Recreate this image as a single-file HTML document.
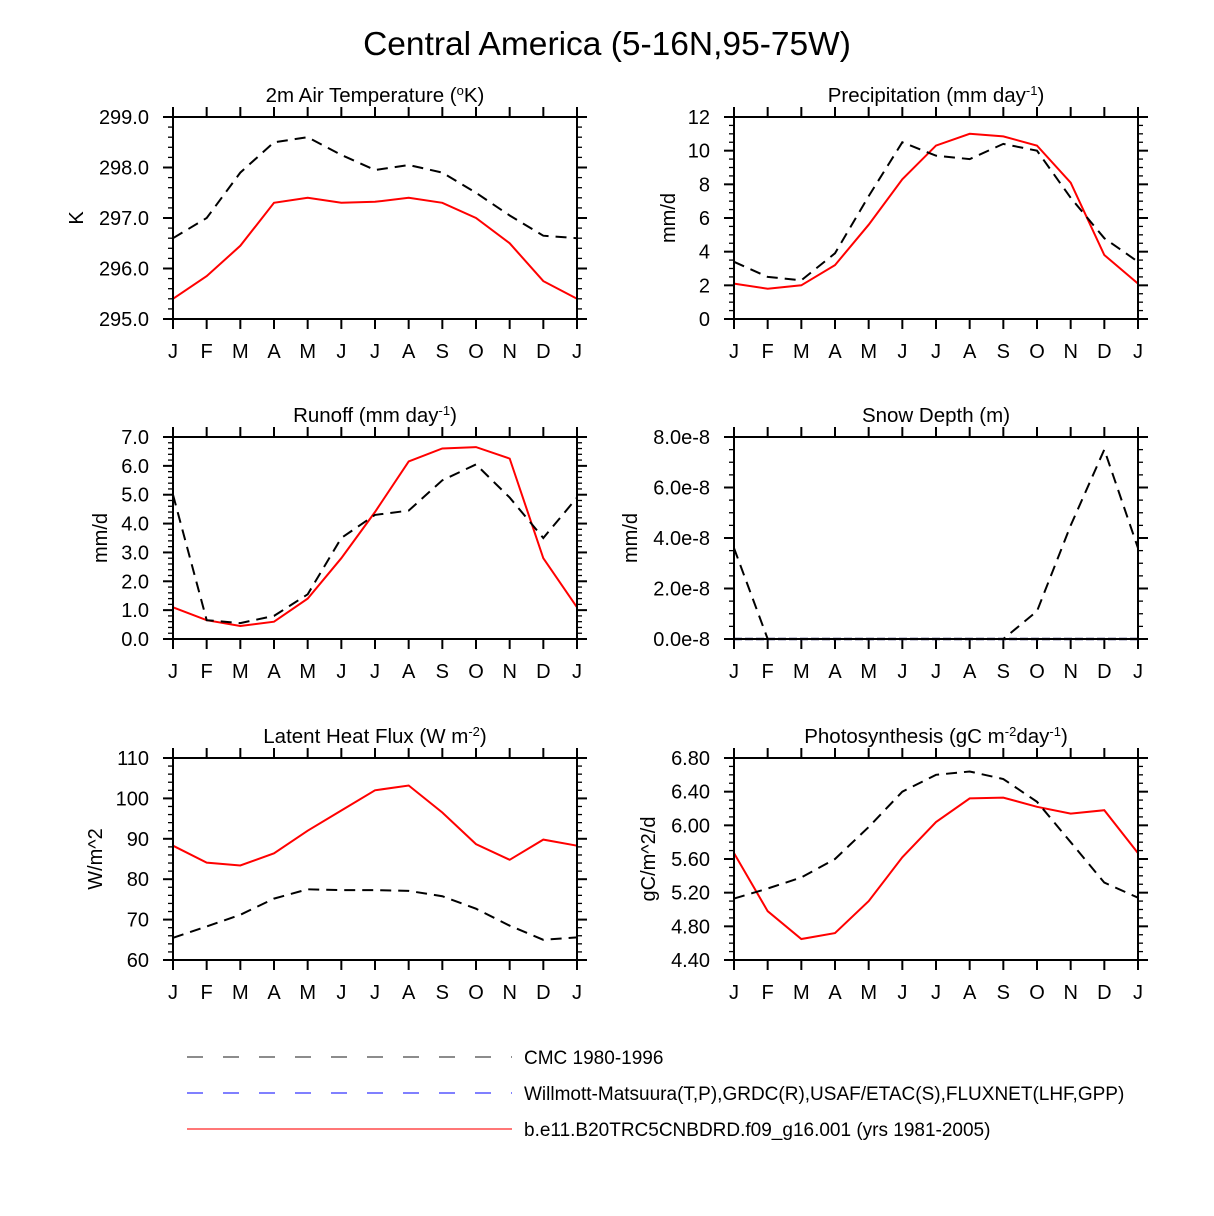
<!DOCTYPE html>
<html><head><meta charset="utf-8"><style>
body{margin:0;background:#fff;}
svg{display:block;font-family:"Liberation Sans",sans-serif;}
</style></head><body>
<svg id="s" width="1214" height="1216" viewBox="0 0 1214 1216" xmlns="http://www.w3.org/2000/svg">
<text x="607" y="55" font-size="33.5" text-anchor="middle">Central America (5-16N,95-75W)</text>
<g>
<line x1="187" y1="1057" x2="512" y2="1057" stroke="#666" stroke-width="1.5" stroke-dasharray="16,20"/>
<text x="524" y="1064" font-size="19">CMC 1980-1996</text>
<line x1="187" y1="1093" x2="512" y2="1093" stroke="#00f" stroke-width="1" stroke-dasharray="16,20"/>
<text x="524" y="1100" font-size="19">Willmott-Matsuura(T,P),GRDC(R),USAF/ETAC(S),FLUXNET(LHF,GPP)</text>
<line x1="187" y1="1129" x2="512" y2="1129" stroke="#f77" stroke-width="2"/>
<text x="524" y="1136" font-size="19">b.e11.B20TRC5CNBDRD.f09_g16.001 (yrs 1981-2005)</text>
</g>
</svg>
<script>
const months=["J","F","M","A","M","J","J","A","S","O","N","D","J"];
const tempCMC=[296.6,297.0,297.9,298.5,298.6,298.25,297.95,298.05,297.9,297.5,297.05,296.65,296.6];
const tempModel=[295.4,295.85,296.45,297.3,297.4,297.3,297.32,297.4,297.3,297.0,296.5,295.75,295.4];
const precCMC=[3.4,2.5,2.3,3.9,7.3,10.5,9.7,9.5,10.4,10.0,7.2,4.8,3.4];
const precModel=[2.1,1.8,2.0,3.2,5.6,8.3,10.3,11.0,10.85,10.3,8.1,3.8,2.1];
const runCMC=[5.0,0.65,0.55,0.8,1.55,3.5,4.3,4.45,5.5,6.05,4.9,3.5,4.9];
const runModel=[1.1,0.65,0.45,0.6,1.4,2.8,4.4,6.15,6.6,6.65,6.25,2.8,1.1];
const snowCMC=[3.6,0,0,0,0,0,0,0,0,1.1,4.5,7.5,3.6];
const snowModel=[0,0,0,0,0,0,0,0,0,0,0,0,0];
const lhfCMC=[65.5,68.3,71.2,75.2,77.5,77.3,77.3,77.1,75.8,72.7,68.5,65.0,65.6];
const lhfModel=[88.3,84.1,83.4,86.4,92,97,102,103.2,96.5,88.7,84.8,89.8,88.3];
const gppCMC=[5.13,5.25,5.38,5.6,5.98,6.4,6.6,6.64,6.55,6.28,5.8,5.32,5.14];
const gppModel=[5.67,4.98,4.65,4.72,5.1,5.62,6.04,6.32,6.33,6.22,6.14,6.18,5.67];
const tempTicks=["295.0","296.0","297.0","298.0","299.0"];
const precTicks=["0","2","4","6","8","10","12"];
const runTicks=["0.0","1.0","2.0","3.0","4.0","5.0","6.0","7.0"];
const snowTicks=["0.0e-8","2.0e-8","4.0e-8","6.0e-8","8.0e-8"];
const lhfTicks=["60","70","80","90","100","110"];
const gppTicks=["4.40","4.80","5.20","5.60","6.00","6.40","6.80"];

const NS="http://www.w3.org/2000/svg";
const svg=document.getElementById('s');
function mk(tag,attrs,parent){const e=document.createElementNS(NS,tag);for(const k in attrs)e.setAttribute(k,attrs[k]);(parent||svg).appendChild(e);return e;}

const panels=[
 {name:'temperature',x:173,y:117,lx:76,title:'2m Air Temperature (<tspan font-size="13" dy="-7">o</tspan><tspan dy="7">K)</tspan>',ylab:'K',ymin:295,ymax:299,minor:0.2,ticks:tempTicks,cmc:tempCMC,model:tempModel},
 {name:'precipitation',x:734,y:117,lx:668,title:'Precipitation (mm day<tspan font-size="13" dy="-7">-1</tspan><tspan dy="7">)</tspan>',ylab:'mm/d',ymin:0,ymax:12,minor:0.5,ticks:precTicks,cmc:precCMC,model:precModel},
 {name:'runoff',x:173,y:437,lx:100,title:'Runoff (mm day<tspan font-size="13" dy="-7">-1</tspan><tspan dy="7">)</tspan>',ylab:'mm/d',ymin:0,ymax:7,minor:0.2,ticks:runTicks,cmc:runCMC,model:runModel},
 {name:'snow-depth',x:734,y:437,lx:630,title:'Snow Depth (m)',ylab:'mm/d',ymin:0,ymax:8,minor:0.5,ticks:snowTicks,cmc:snowCMC,model:snowModel,obs:snowModel},
 {name:'latent-heat',x:173,y:758,lx:95,title:'Latent Heat Flux (W m<tspan font-size="13" dy="-7">-2</tspan><tspan dy="7">)</tspan>',ylab:'W/m^2',ymin:60,ymax:110,minor:2,ticks:lhfTicks,cmc:lhfCMC,model:lhfModel},
 {name:'photosynthesis',x:734,y:758,lx:648,title:'Photosynthesis (gC m<tspan font-size="13" dy="-7">-2</tspan><tspan dy="7">day</tspan><tspan font-size="13" dy="-7">-1</tspan><tspan dy="7">)</tspan>',ylab:'gC/m^2/d',ymin:4.4,ymax:6.8,minor:0.1,ticks:gppTicks,cmc:gppCMC,model:gppModel}
];
const W=404,H=202;
panels.forEach(p=>{
 const g=mk('g',{});
 
 
 const xs=i=>p.x+i*W/12;
 const ys=v=>p.y+H-(v-p.ymin)/(p.ymax-p.ymin)*H;
 const t=mk('text',{x:p.x+W/2,y:p.y-15,'font-size':20.5,'text-anchor':'middle'},g);
 t.innerHTML=p.title;
 
 
 const yl=mk('text',{x:0,y:0,'font-size':20,'text-anchor':'middle',transform:`translate(${p.lx+7},${p.y+H/2}) rotate(-90)`},g);
 yl.textContent=p.ylab;
 
 
 const nmin=Math.round((p.ymax-p.ymin)/p.minor);
 for(let k=0;k<=nmin;k++){const y=p.y+H-k*H/nmin;
  mk('line',{x1:p.x-5,x2:p.x,y1:y,y2:y,stroke:'#000','stroke-width':1.3},g);
  mk('line',{x1:p.x+W,x2:p.x+W+5,y1:y,y2:y,stroke:'#000','stroke-width':1.3},g);}
 p.ticks.forEach((lab,k)=>{const y=p.y+H-k*H/(p.ticks.length-1);
  mk('line',{x1:p.x-10,x2:p.x,y1:y,y2:y,stroke:'#000','stroke-width':2},g);
  mk('line',{x1:p.x+W,x2:p.x+W+10,y1:y,y2:y,stroke:'#000','stroke-width':2},g);
  const tl=mk('text',{x:p.x-24,y:y+7,'font-size':20,'text-anchor':'end'},g);
  tl.textContent=lab;
  
  });
 months.forEach((m,i)=>{const x=xs(i);
  mk('line',{x1:x,x2:x,y1:p.y+H,y2:p.y+H+10,stroke:'#000','stroke-width':2},g);
  mk('line',{x1:x,x2:x,y1:p.y-10,y2:p.y,stroke:'#000','stroke-width':2},g);
  const ml=mk('text',{x:x,y:p.y+H+39,'font-size':20,'text-anchor':'middle'},g);
  ml.textContent=m;
  
  });
 const pts=a=>a.map((v,i)=>xs(i).toFixed(1)+','+ys(v).toFixed(1)).join(' ');
 const red=mk('polyline',{points:pts(p.model),fill:'none',stroke:'#f00','stroke-width':2},g);
 
 
 if(p.obs){const b=mk('polyline',{points:pts(p.obs),fill:'none',stroke:'#226','stroke-width':2.5,'stroke-dasharray':'8,3'},g);
  
  }
 const blk=mk('polyline',{points:pts(p.cmc),fill:'none',stroke:'#000','stroke-width':2,'stroke-dasharray':'11,7'},g);
 
 
 const fr=mk('rect',{x:p.x,y:p.y,width:W,height:H,fill:'none',stroke:'#000','stroke-width':2},g);
 
 
});
</script>
</body></html>
